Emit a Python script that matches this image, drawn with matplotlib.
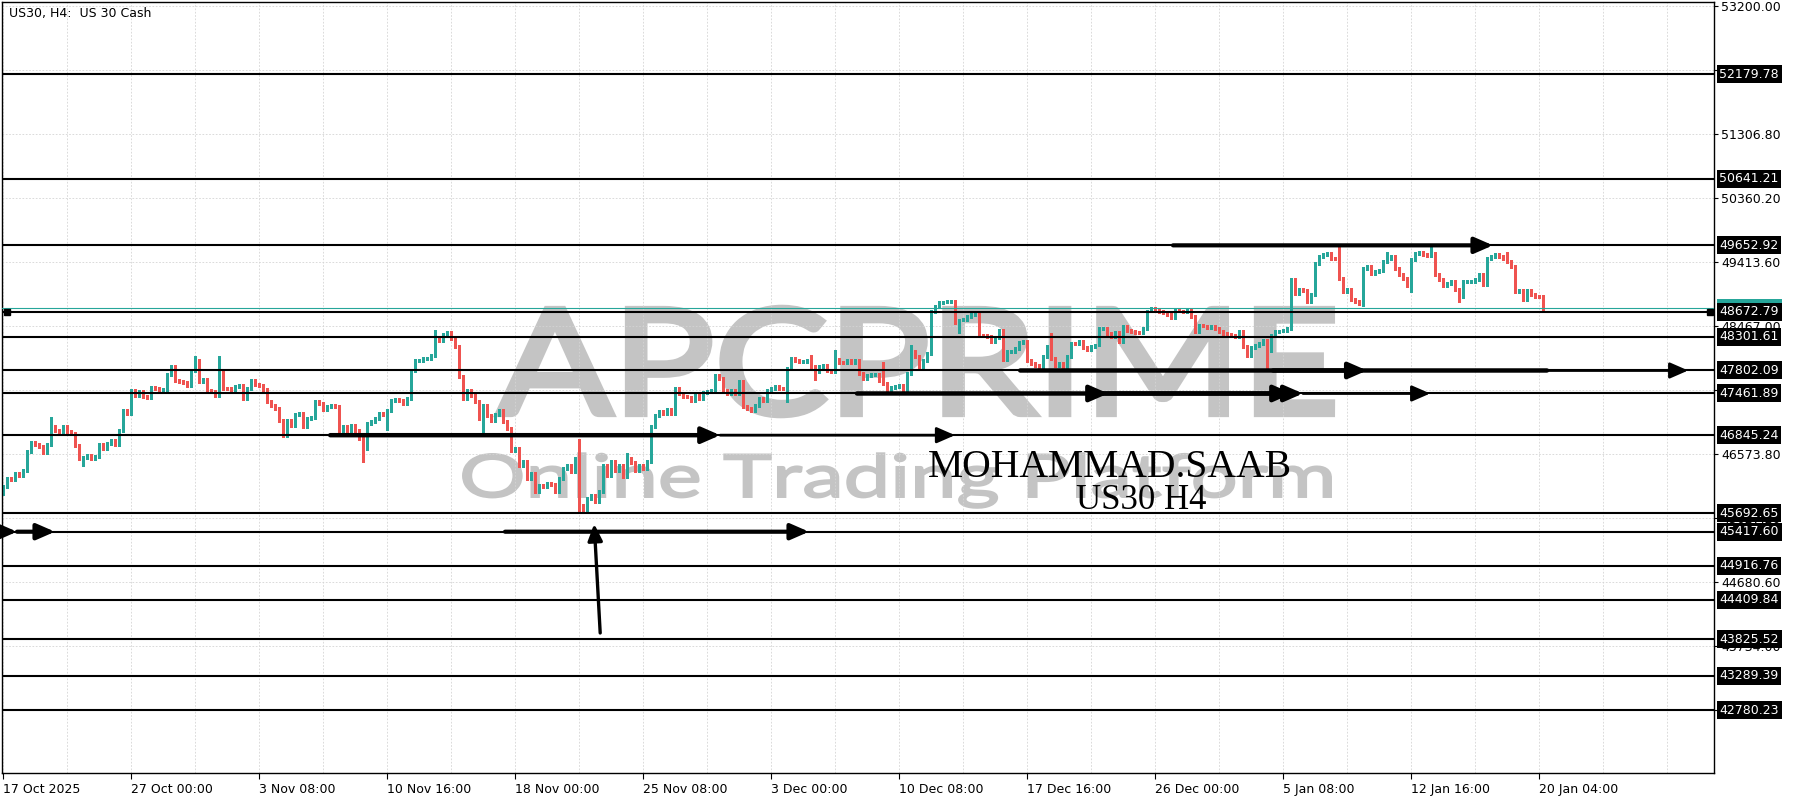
import numpy as np
import matplotlib
matplotlib.use('Agg')
import matplotlib.pyplot as plt
from matplotlib.textpath import TextPath
from matplotlib.patches import PathPatch
from matplotlib.font_manager import FontProperties
from matplotlib.transforms import Affine2D, blended_transform_factory, offset_copy

# H4 closes, 17 Oct 2025 -> 20 Jan 2026
closes = [
    46081, 46204, 46195, 46278, 46253, 46327, 46609, 46732, 46712, 46673,
    46584, 46707, 46969, 46919, 46870, 46969, 46895, 46870, 46688, 46500,
    46510, 46549, 46500, 46525, 46707, 46648, 46722, 46771, 46712, 46919,
    47215, 47166, 47502, 47437, 47487, 47413, 47398, 47546, 47536, 47497,
    47526, 47743, 47857, 47660, 47635, 47630, 47585, 47808, 47946, 47635,
    47674, 47511, 47487, 47437, 47783, 47536, 47530, 47497, 47561, 47585,
    47388, 47536, 47660, 47595, 47585, 47526, 47339, 47289, 47240, 47067,
    46845, 47067, 46993, 47151, 47166, 46980, 47090, 47105, 47349, 47314,
    47230, 47265, 47289, 47265, 46870, 46969, 46919, 46993, 46919, 46796,
    46648, 47018, 47043, 47092, 47166, 47151, 47215, 47363, 47370, 47360,
    47314, 47388, 47808, 47946, 47956, 47980, 47985, 48020, 48276, 48252,
    48335, 48365, 48276, 48153, 47709, 47388, 47511, 47437, 47339, 47092,
    47289, 47141, 47067, 47151, 47215, 47043, 46944, 46623, 46648, 46401,
    46451, 46204, 46278, 46007, 46105, 46090, 46130, 46115, 46007, 46204,
    46352, 46401, 46303, 46500, 45809, 45711, 45908, 45947, 45859, 46007,
    46401, 46253, 46451, 46327, 46401, 46229, 46500, 46441, 46327, 46401,
    46352, 46460, 46969, 47141, 47191, 47166, 47230, 47166, 47536, 47462,
    47413, 47410, 47363, 47427, 47388, 47477, 47487, 47511, 47734, 47684,
    47511, 47462, 47511, 47462, 47635, 47265, 47240, 47215, 47289, 47388,
    47363, 47511, 47536, 47561, 47536, 47530, 47832,
    47981, 47945, 47935, 47942, 47945, 47858, 47784, 47858, 47873, 47808,
    47784, 47971, 47922, 47920, 47956, 47922, 47956, 47759, 47685, 47734,
    47744, 47746, 47660, 47611, 47512, 47547, 47562, 47577, 47512, 47759,
    48090, 48006, 47833, 47956, 48055, 48672, 48746, 48810, 48815, 48820,
    48825, 48514, 48549, 48563, 48598, 48623, 48647, 48317, 48315, 48302,
    48228, 48287, 48400, 47971, 48080, 48090, 48129, 48218, 48228, 47956,
    47907, 47873, 47833, 48006, 48154, 47981, 47882, 47907, 47833, 48006,
    48203, 48200, 48228, 48139, 48119, 48164, 48179, 48425, 48430, 48351,
    48302, 48366, 48228, 48450, 48400, 48376, 48370, 48366, 48425, 48682,
    48721, 48697, 48672, 48662, 48623, 48583, 48697,
    48682, 48672, 48697, 48598, 48376, 48465, 48460, 48435, 48450, 48425,
    48376, 48351, 48336, 48317, 48302, 48376, 48154, 48030, 48139, 48169,
    48203, 48253, 48104, 48317, 48376, 48386, 48400, 48425, 49141, 48944,
    48993, 48988, 48820, 48919, 49387, 49486, 49520, 49530, 49461, 49460,
    49165, 48968, 49007, 48845, 48820, 48795, 49313, 49338, 49239, 49264,
    49274, 49412, 49461, 49486, 49313, 49215, 49165, 49141, 49437, 49535,
    49550, 49511, 49500, 49535, 49215, 49141, 49057, 49091, 49116, 48993,
    48894, 49116, 49120, 49125, 49141, 49215, 49067, 49461, 49486, 49511,
    49486, 49461, 49412, 49338, 48968, 48978, 48845, 48978, 48919, 48894,
    48890, 48721,
]
first_open = 45982

# long wicks (bar index -> price)
wick_highs = {12: 47117, 48: 48015, 54: 48015, 108: 48400, 144: 46796, 156: 46575,
              202: 48030, 208: 48105, 220: 47932, 227: 48179, 262: 48351,
              334: 49634, 346: 49560, 357: 49634, 376: 49560}
wick_lows = {20: 46391, 90: 46451, 96: 46919, 120: 46845, 144: 45711, 196: 47340,
             203: 47660, 239: 48351, 316: 47833, 340: 48761, 351: 49042,
             352: 48968, 364: 48820}

levels = [52179.78, 50641.21, 49652.92, 48672.79, 48301.61, 47802.09, 47461.89,
          46845.24, 45692.65, 45417.60, 44916.76, 44409.84, 43825.52, 43289.39, 42780.23]

ytick_vals = [53200.00, 52253.40, 51306.80, 50360.20, 49413.60, 48467.00,
              47520.40, 46573.80, 45627.20, 44680.60, 43734.00, 42787.40]

xtick_bars = [0, 32, 64, 96, 128, 160, 192, 224, 256, 288, 320, 352, 384]
xtick_labels = ['17 Oct 2025', '27 Oct 00:00', '3 Nov 08:00', '10 Nov 16:00',
                '18 Nov 00:00', '25 Nov 08:00', '3 Dec 00:00', '10 Dec 08:00',
                '17 Dec 16:00', '26 Dec 00:00', '5 Jan 08:00', '12 Jan 16:00',
                '20 Jan 04:00']

# arrowed lines: price, from bar, to bar, line width, arrow head
arrows = [
    (49652.92, 292.5, 372.5, 3.0, True),
    (47802.09, 254.3, 341.0, 3.2, True),
    (47802.09, 317.5, 386.0, 3.2, False),
    (47802.09, 386.0, 421.3, 2.0, True),
    (47461.89, 213.5, 276.3, 3.2, True),
    (47461.89, 274.3, 322.3, 3.2, True),
    (47461.89, 274.3, 325.0, 3.2, True),
    (47461.89, 325.0, 356.8, 2.0, True),
    (46845.24, 81.8, 179.3, 3.2, True),
    (46845.24, 179.3, 238.0, 2.0, True),
    (45417.60, -0.7, 3.5, 3.0, True),
    (45417.60, 3.5, 13.0, 3.0, True),
    (45417.60, 125.5, 201.5, 3.0, True),
]
vert_arrow = ((149.3, 43920), (147.8, 45533))

green = '#26a69a'
red = '#ef5350'

W, H = 1800, 800
fig = plt.figure(figsize=(18, 8), dpi=100)
ax = fig.add_axes([2 / W, 27 / H, 1712 / W, 771 / H])
ax.set_xlim(-0.25, 427.75)
ax.set_ylim(41849, 53252)

closes = np.array(closes, dtype=float)
opens = np.concatenate([[first_open], closes[:-1]])
n = len(closes)
x = np.arange(n)
top = np.maximum(opens, closes)
bot = np.minimum(opens, closes)
highs = top + 22
lows = bot - 22
for i, v in wick_highs.items():
    highs[i] = v
for i, v in wick_lows.items():
    lows[i] = v
cols = np.where(closes >= opens, green, red)

ax.vlines(x, lows, highs, colors=cols, lw=0.9, zorder=2, antialiased=False)
ax.bar(x, np.maximum(top - bot, 14), bottom=bot, width=0.74, color=cols,
       linewidth=0, zorder=2.1, antialiased=False)

# grid
ax.set_xticks(np.arange(0, 428, 16), minor=True)
ax.set_xticks(xtick_bars, xtick_labels)
ax.set_yticks(ytick_vals, [f'{v:.2f}' for v in ytick_vals])
ax.grid(True, which='both', color='#d4d4d4', lw=0.6, ls=(0, (2, 2)), zorder=0.5)
ax.set_axisbelow(True)
ax.yaxis.tick_right()
ax.tick_params(axis='y', length=3, pad=2, labelsize=9, width=0.8)
ax.tick_params(axis='x', which='major', length=4, pad=3, labelsize=9, width=0.8)
ax.tick_params(axis='x', which='minor', length=0)
for lbl in ax.get_xticklabels():
    lbl.set_ha('left')
for s in ax.spines.values():
    s.set_linewidth(1.0)
    s.set_color('black')

# levels
for lev in levels:
    ax.axhline(lev, color='black', lw=1.5, zorder=3)
ax.plot([1.0, 426.7], [48672.79, 48672.79], ls='none', marker='s', ms=4.5,
        color='black', zorder=3.5)
bid = closes[-1]
ax.axhline(bid, color=green, lw=0.8, zorder=3)

for lev, x0, x1, lw, head in arrows:
    style = '-|>,head_length=0.55,head_width=0.24' if head else '-'
    ax.annotate('', xy=(x1, lev), xytext=(x0, lev),
                arrowprops=dict(arrowstyle=style, lw=lw, color='black',
                                shrinkA=0, shrinkB=0, mutation_scale=20),
                zorder=4)
ax.annotate('', xy=vert_arrow[1], xytext=vert_arrow[0],
            arrowprops=dict(arrowstyle='-|>,head_length=0.5,head_width=0.22', lw=2.4,
                            color='black', shrinkA=0, shrinkB=0, mutation_scale=20),
            zorder=4)

# price labels at the right
trans = offset_copy(blended_transform_factory(ax.transAxes, ax.transData), fig,
                    x=5.5, y=0, units='dots')
ax.text(1.0, bid, f'{bid:.2f}', transform=trans, color='white', fontsize=9,
        va='center', ha='left', clip_on=False, zorder=5,
        bbox=dict(boxstyle='square,pad=0.2', fc=green, ec='none'))
for lev in levels:
    ax.text(1.0, lev, f'{lev:.2f}', transform=trans, color='white', fontsize=9,
            va='center', ha='left', clip_on=False, zorder=6,
            bbox=dict(boxstyle='square,pad=0.2', fc='black', ec='none'))

ax.text(0.004, 0.993, 'US30, H4:  US 30 Cash', transform=ax.transAxes,
        va='top', ha='left', fontsize=9, zorder=6)


# watermark, fitted into a pixel box of the picture
def watermark(s, x0, x1, ytop, ybase, ref, stroke):
    fp = FontProperties(family='Lato', weight='normal')
    tp = TextPath((0, 0), s, prop=fp, size=100)
    ext = tp.get_extents()
    hr = TextPath((0, 0), ref, prop=fp, size=100).get_extents()
    sx = (x1 - x0) / ext.width
    sy = (ybase - ytop) / hr.y1
    tr = Affine2D().translate(-ext.x0, 0).scale(sx, sy).translate(x0, H - ybase)
    ax.add_patch(PathPatch(tp, transform=tr, fc='#c4c4c4', ec='#c4c4c4',
                           lw=stroke, joinstyle='miter', zorder=0.2))


watermark('APCPRIME', 498, 1332, 309, 414, 'P', 4.5)
watermark('Online Trading Platform', 463, 1331, 454, 497, 'O', 1.4)

fig.text(928 / W, 1 - 477 / H, 'MOHAMMAD.SAAB', family='Liberation Serif',
         fontsize=28.5, va='baseline', ha='left')
fig.text(1076 / W, 1 - 509 / H, 'US30 H4', family='Liberation Serif',
         fontsize=25, va='baseline', ha='left')

fig.savefig('out.png', dpi=100)
